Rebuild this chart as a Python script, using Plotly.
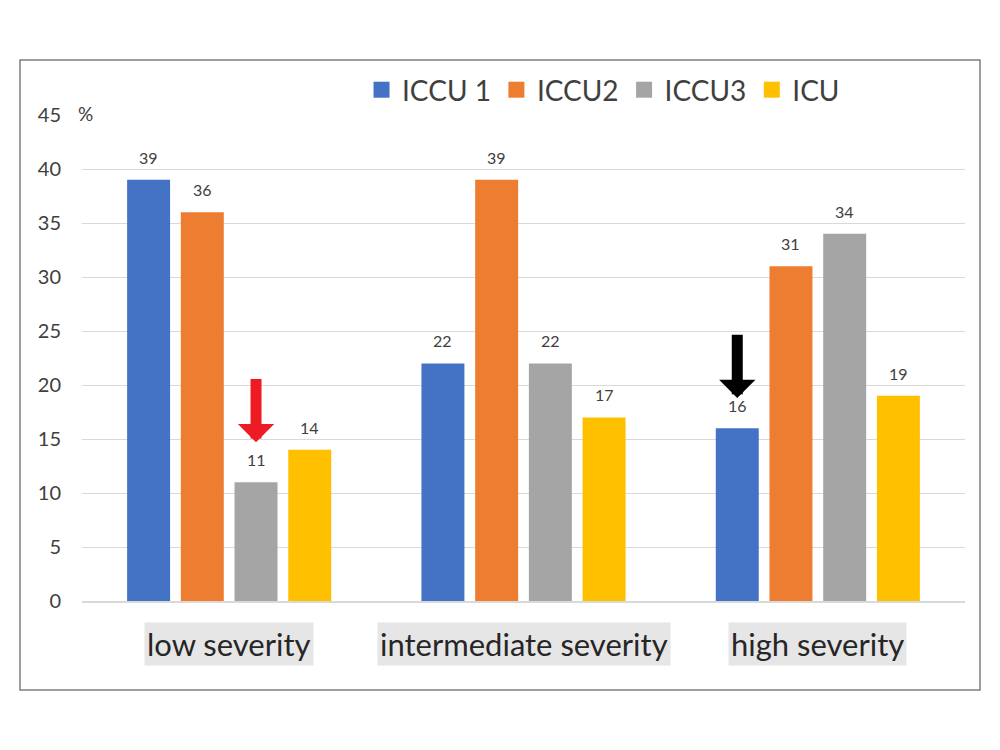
import plotly.graph_objects as go

categories = ["low severity", "intermediate severity", "high severity"]
series_names = ["ICCU 1", "ICCU2", "ICCU3", "ICU"]
iccu1 = [39, 22, 16]
iccu2 = [36, 39, 31]
iccu3 = [11, 22, 34]
icu = [14, 17, 19]
y_ticks = [0, 5, 10, 15, 20, 25, 30, 35, 40, 45]

colors = ["#4472C4", "#ED7D31", "#A5A5A5", "#FFC000"]
FONT = "Lato, 'Open Sans', sans-serif"
TXT = "#404040"

bargap = 0.27
slot = (1 - bargap) / 4
offsets = [(k - 1.5) * slot for k in range(4)]

fig = go.Figure()
all_series = [iccu1, iccu2, iccu3, icu]
for name, vals, col in zip(series_names, all_series, colors):
    fig.add_trace(go.Bar(
        x=categories, y=vals, name=name, marker_color=col, marker_line_width=0,
        showlegend=False,
    ))
# legend entries with larger square swatches
for name, col in zip(series_names, colors):
    fig.add_trace(go.Scatter(
        x=[None], y=[None], mode="markers", name=name,
        marker=dict(symbol="square", size=16, color=col),
    ))

# value labels above bars
for k, vals in enumerate(all_series):
    for i, v in enumerate(vals):
        fig.add_annotation(x=i + offsets[k], y=v, xref="x", yref="y", text=str(v),
                           showarrow=False, yanchor="bottom", yshift=11,
                           font=dict(size=16, color=TXT, family=FONT))

fig.update_layout(
    width=1000, height=750,
    margin=dict(l=82, r=35, t=115, b=149),
    paper_bgcolor="white", plot_bgcolor="white",
    barmode="group", bargap=bargap, bargroupgap=0.2,
    font=dict(family=FONT, color=TXT),
    showlegend=True,
    legend=dict(orientation="h", x=0.316, y=1.0, xanchor="left", yanchor="bottom",
                font=dict(size=28, color=TXT, family=FONT), itemwidth=31,
                bgcolor="rgba(0,0,0,0)", traceorder="normal", tracegroupgap=0),
    xaxis=dict(showticklabels=False, showgrid=False, showline=True,
               linecolor="#D9D9D9", linewidth=2, ticks="", zeroline=False),
    yaxis=dict(range=[0, 45], tickvals=y_ticks, showgrid=True, gridcolor="#D9D9D9",
               gridwidth=1, zeroline=False, showline=False, ticks="",
               tickfont=dict(size=20, color=TXT, family=FONT), ticklabelstandoff=20),
)

# category labels with grey background
for i, c in enumerate(categories):
    fig.add_annotation(x=i, y=-0.088, xref="x", yref="paper", text=c, showarrow=False,
                       font=dict(size=31, color="#262626", family=FONT),
                       bgcolor="#E7E6E6", borderpad=2, yanchor="middle")

# % label
fig.add_annotation(x=0.004, y=45, xref="paper", yref="y", text="%", showarrow=False,
                   font=dict(size=19, color=TXT, family=FONT), bgcolor="white",
                   xanchor="center", yanchor="middle", yshift=2, borderpad=2)

# arrows
fig.add_annotation(x=0 + offsets[2], y=iccu3[0] + 3.7, ax=0 + offsets[2], ay=iccu3[0] + 9.7,
                   xref="x", yref="y", axref="x", ayref="y", text="", showarrow=True,
                   arrowhead=1, arrowsize=0.55, arrowwidth=11, arrowcolor="#ED1C24")
fig.add_annotation(x=2 + offsets[0], y=iccu1[2] + 2.8, ax=2 + offsets[0], ay=iccu1[2] + 8.8,
                   xref="x", yref="y", axref="x", ayref="y", text="", showarrow=True,
                   arrowhead=1, arrowsize=0.55, arrowwidth=11, arrowcolor="#000000")

# outer frame
fig.add_shape(type="rect", xref="paper", yref="paper",
              x0=(20 - 82) / 883, x1=(980 - 82) / 883,
              y0=(601 - 690) / 486, y1=(601 - 60) / 486,
              line=dict(color="#7F7F7F", width=1.5), fillcolor="rgba(0,0,0,0)")

fig.write_html("out.html")
